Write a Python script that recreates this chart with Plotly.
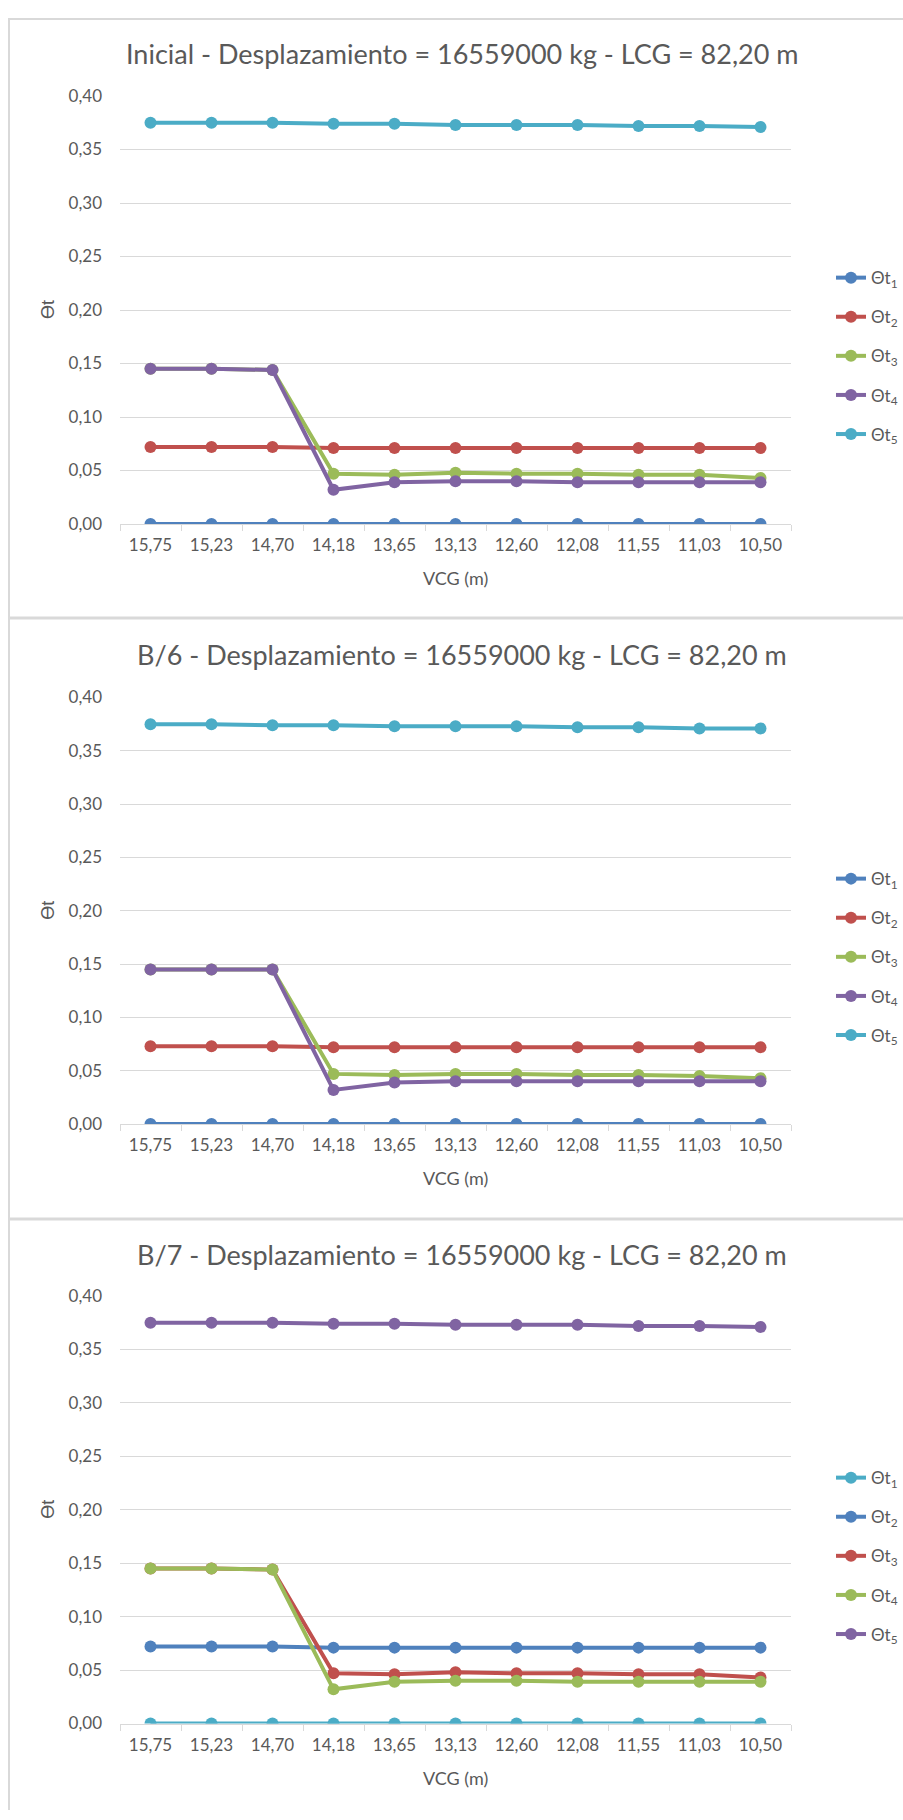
import plotly.graph_objects as go

# ---------------- data ----------------
vcg_labels = ["15,75", "15,23", "14,70", "14,18", "13,65", "13,13",
              "12,60", "12,08", "11,55", "11,03", "10,50"]
series_names = ["Θt<sub>1</sub>", "Θt<sub>2</sub>", "Θt<sub>3</sub>", "Θt<sub>4</sub>", "Θt<sub>5</sub>"]

# Panel 1: Inicial
ini_t1 = [0.000, 0.000, 0.000, 0.000, 0.000, 0.000, 0.000, 0.000, 0.000, 0.000, 0.000]
ini_t2 = [0.072, 0.072, 0.072, 0.071, 0.071, 0.071, 0.071, 0.071, 0.071, 0.071, 0.071]
ini_t3 = [0.145, 0.145, 0.144, 0.047, 0.046, 0.048, 0.047, 0.047, 0.046, 0.046, 0.043]
ini_t4 = [0.145, 0.145, 0.144, 0.032, 0.039, 0.040, 0.040, 0.039, 0.039, 0.039, 0.039]
ini_t5 = [0.375, 0.375, 0.375, 0.374, 0.374, 0.373, 0.373, 0.373, 0.372, 0.372, 0.371]

# Panel 2: B/6
b6_t1 = [0.000, 0.000, 0.000, 0.000, 0.000, 0.000, 0.000, 0.000, 0.000, 0.000, 0.000]
b6_t2 = [0.073, 0.073, 0.073, 0.072, 0.072, 0.072, 0.072, 0.072, 0.072, 0.072, 0.072]
b6_t3 = [0.145, 0.145, 0.145, 0.047, 0.046, 0.047, 0.047, 0.046, 0.046, 0.045, 0.043]
b6_t4 = [0.145, 0.145, 0.145, 0.032, 0.039, 0.040, 0.040, 0.040, 0.040, 0.040, 0.040]
b6_t5 = [0.375, 0.375, 0.374, 0.374, 0.373, 0.373, 0.373, 0.372, 0.372, 0.371, 0.371]

# Panel 3: B/7
b7_t1 = [0.000, 0.000, 0.000, 0.000, 0.000, 0.000, 0.000, 0.000, 0.000, 0.000, 0.000]
b7_t2 = [0.072, 0.072, 0.072, 0.071, 0.071, 0.071, 0.071, 0.071, 0.071, 0.071, 0.071]
b7_t3 = [0.145, 0.145, 0.144, 0.047, 0.046, 0.048, 0.047, 0.047, 0.046, 0.046, 0.043]
b7_t4 = [0.145, 0.145, 0.144, 0.032, 0.039, 0.040, 0.040, 0.039, 0.039, 0.039, 0.039]
b7_t5 = [0.375, 0.375, 0.375, 0.374, 0.374, 0.373, 0.373, 0.373, 0.372, 0.372, 0.371]

panel_titles = [
    "Inicial - Desplazamiento = 16559000 kg - LCG = 82,20 m",
    "B/6 - Desplazamiento = 16559000 kg - LCG = 82,20 m",
    "B/7 - Desplazamiento = 16559000 kg - LCG = 82,20 m",
]
x_title = "VCG (m)"
y_title = "ϴt"

# ---------------- styling ----------------
BLUE, RED, GREEN, PURPLE, AQUA = "#4F81BD", "#C0504D", "#9BBB59", "#8064A2", "#4BACC6"
panel_colors = [
    [BLUE, RED, GREEN, PURPLE, AQUA],
    [BLUE, RED, GREEN, PURPLE, AQUA],
    [AQUA, BLUE, RED, GREEN, PURPLE],
]
panel_data = [
    [ini_t1, ini_t2, ini_t3, ini_t4, ini_t5],
    [b6_t1, b6_t2, b6_t3, b6_t4, b6_t5],
    [b7_t1, b7_t2, b7_t3, b7_t4, b7_t5],
]

W, H = 903, 1820
TXT = "#595959"
GRID = "#D9D9D9"
FONT = "Lato"

# pixel geometry of each panel: (plot top, plot bottom, title y, legend top)
panels_px = [
    (86.0, 519.0, 43.5, 252.0),
    (694.5, 1126.0, 651.0, 860.0),
    (1300.0, 1732.5, 1258.5, 1466.0),
]
PX_L, PX_R = 120.0, 791.0


def py(p):
    return 1 - p / H


def px(p):
    return p / W


fig = go.Figure()
annotations = []
layout_axes = {}

for k in range(3):
    top, bot, ty, ltop = panels_px[k]
    sfx = "" if k == 0 else str(k + 1)
    xa, ya = "x" + sfx, "y" + sfx
    leg = "legend" + sfx
    for i in range(5):
        fig.add_trace(go.Scatter(
            x=vcg_labels, y=panel_data[k][i], name=series_names[i],
            mode="lines+markers", xaxis=xa, yaxis=ya, legend=leg,
            legendgroup=f"p{k}s{i}",
            line=dict(color=panel_colors[k][i], width=4),
            marker=dict(color=panel_colors[k][i], size=12),
        ))
    layout_axes["xaxis" + sfx] = dict(
        domain=[px(PX_L), px(PX_R)], anchor=ya, type="category",
        categoryorder="array", categoryarray=vcg_labels,
        range=[-0.5, 10.5], showgrid=False, zeroline=False,
        showline=True, linecolor=GRID, linewidth=1,
        ticks="outside", tickson="boundaries", ticklen=6, tickcolor=GRID,
        tickfont=dict(family=FONT, size=17, color=TXT),
        ticklabelstandoff=6, fixedrange=True,
    )
    layout_axes["yaxis" + sfx] = dict(
        domain=[py(bot), py(top)], anchor=xa, range=[0, 0.40],
        dtick=0.05, tick0=0, tickformat=".2f", showgrid=True, gridcolor=GRID,
        gridwidth=1, zeroline=False, showline=False, ticks="",
        tickfont=dict(family=FONT, size=17, color=TXT),
        ticklabelstandoff=17, fixedrange=True,
    )
    layout_axes[leg] = dict(
        x=px(831), y=py(ltop), xanchor="left", yanchor="top",
        orientation="v", tracegroupgap=14, bgcolor="rgba(0,0,0,0)",
        font=dict(family=FONT, size=17, color=TXT),
    )
    annotations.append(dict(
        text=panel_titles[k], x=px(462), y=py(ty), xref="paper", yref="paper",
        xanchor="center", yanchor="middle", showarrow=False,
        font=dict(family=FONT, size=27, color=TXT),
    ))
    annotations.append(dict(
        text=x_title, x=px(455), y=py(bot + 55), xref="paper", yref="paper",
        xanchor="center", yanchor="middle", showarrow=False,
        font=dict(family=FONT, size=18, color=TXT),
    ))
    annotations.append(dict(
        text=y_title, x=px(48), y=py((top + bot) / 2), xref="paper", yref="paper",
        xanchor="center", yanchor="middle", showarrow=False, textangle=-90,
        font=dict(family="Liberation Sans", size=18, color=TXT),
    ))

shapes = [
    dict(type="line", xref="paper", yref="paper", x0=px(8), x1=1.0, y0=py(8), y1=py(8),
         line=dict(color=GRID, width=2)),
    dict(type="line", xref="paper", yref="paper", x0=px(9), x1=px(9), y0=py(7), y1=0,
         line=dict(color=GRID, width=2)),
    dict(type="line", xref="paper", yref="paper", x0=px(8), x1=1.0, y0=py(614.2), y1=py(614.2),
         line=dict(color=GRID, width=3)),
    dict(type="line", xref="paper", yref="paper", x0=px(8), x1=1.0, y0=py(1222), y1=py(1222),
         line=dict(color=GRID, width=3)),
]

fig.update_layout(
    width=W, height=H, margin=dict(l=0, r=0, t=0, b=0),
    paper_bgcolor="white", plot_bgcolor="white",
    separators=",.", showlegend=True, hovermode=False,
    annotations=annotations, shapes=shapes,
    **layout_axes,
)

fig.write_html(
    "out.html",
    config={"displayModeBar": False, "staticPlot": True},
    post_script="document.body.style.margin='0';document.body.style.overflow='hidden';",
)
